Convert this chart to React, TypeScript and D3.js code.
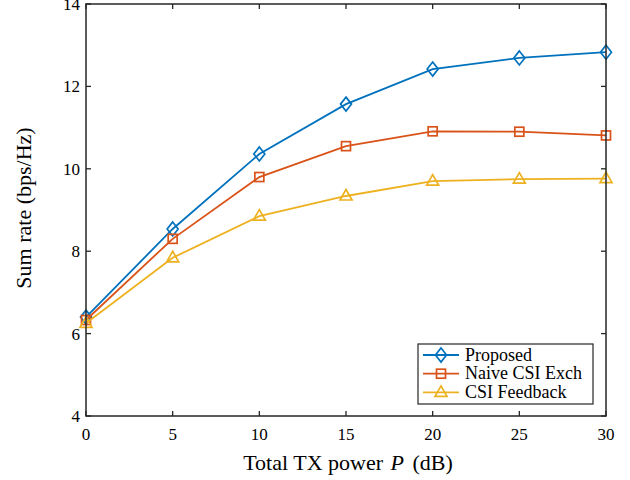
import React from "react";
import * as d3 from "d3";

const powers = [0, 5, 10, 15, 20, 25, 30];
const proposed = [6.4, 8.54, 10.36, 11.57, 12.42, 12.69, 12.83];
const naive = [6.33, 8.3, 9.8, 10.55, 10.91, 10.9, 10.81];
const feedback = [6.25, 7.84, 8.85, 9.34, 9.7, 9.75, 9.76];
const xTicks = [0, 5, 10, 15, 20, 25, 30];
const yTicks = [4, 6, 8, 10, 12, 14];
const seriesNames = ["Proposed", "Naive CSI Exch", "CSI Feedback"];
const colors = ["#0072BD", "#D95319", "#EDB120"];

const W = 630, H = 480;
const L = 86, R = 606, T = 4, B = 416;
const font = "'Liberation Serif', 'Times New Roman', serif";
const axisColor = "#262626";

function Marker({ kind, x, y, color }: { kind: number; x: number; y: number; color: string }) {
  if (kind === 0) {
    const pts = `${x},${y - 7} ${x + 5.5},${y} ${x},${y + 7} ${x - 5.5},${y}`;
    return <polygon points={pts} fill="none" stroke={color} strokeWidth={1.7} />;
  }
  if (kind === 1) {
    return <rect x={x - 4.5} y={y - 4.5} width={9} height={9} fill="none" stroke={color} strokeWidth={1.7} />;
  }
  const pts = `${x},${y - 6.5} ${x + 6},${y + 4} ${x - 6},${y + 4}`;
  return <polygon points={pts} fill="none" stroke={color} strokeWidth={1.7} />;
}

export default function App() {
  const x = d3.scaleLinear().domain([0, 30]).range([L, R]);
  const y = d3.scaleLinear().domain([4, 14]).range([B, T]);
  const data = [proposed, naive, feedback];
  const line = d3.line<number>().x((_, i) => x(powers[i])).y((d) => y(d));
  const lgX = 418, lgY = 344, lgW = 175, lgH = 60;
  return (
    <svg width={W} height={H} style={{ position: "absolute", left: 0, top: 0, background: "#fff" }}>
      <rect x={0} y={0} width={W} height={H} fill="#fff" />
      {xTicks.map((t) => (
        <g key={"xt" + t}>
          <line x1={x(t)} x2={x(t)} y1={B} y2={B - 5} stroke={axisColor} strokeWidth={1.3} />
          <line x1={x(t)} x2={x(t)} y1={T} y2={T + 5} stroke={axisColor} strokeWidth={1.3} />
          <text x={x(t)} y={440} textAnchor="middle" fontFamily={font} fontSize={17} fill="#000">{t}</text>
        </g>
      ))}
      {yTicks.map((t) => (
        <g key={"yt" + t}>
          <line x1={L} x2={L + 5} y1={y(t)} y2={y(t)} stroke={axisColor} strokeWidth={1.3} />
          <line x1={R} x2={R - 5} y1={y(t)} y2={y(t)} stroke={axisColor} strokeWidth={1.3} />
          <text x={80} y={y(t) + 6} textAnchor="end" fontFamily={font} fontSize={17} fill="#000">{t}</text>
        </g>
      ))}
      {data.map((s, k) => (
        <g key={"s" + k}>
          <path d={line(s) || ""} fill="none" stroke={colors[k]} strokeWidth={1.8} />
          {s.map((v, i) => (
            <Marker key={i} kind={k} x={x(powers[i])} y={y(v)} color={colors[k]} />
          ))}
        </g>
      ))}
      <rect x={L} y={T} width={R - L} height={B - T} fill="none" stroke={axisColor} strokeWidth={1.5} />
      <rect x={lgX} y={lgY} width={lgW} height={lgH} fill="#fff" stroke={axisColor} strokeWidth={1.2} />
      {seriesNames.map((n, k) => {
        const cy = lgY + 11 + k * 18.7;
        return (
          <g key={"lg" + k}>
            <line x1={lgX + 5} x2={lgX + 41} y1={cy} y2={cy} stroke={colors[k]} strokeWidth={1.8} />
            <Marker kind={k} x={lgX + 23} y={cy} color={colors[k]} />
            <text x={lgX + 47} y={cy + 5.5} fontFamily={font} fontSize={18} fill="#000">{n}</text>
          </g>
        );
      })}
      <text x={348} y={470} textAnchor="middle" fontFamily={font} fontSize={22} fill="#000">
        Total TX power <tspan dx={2} fontStyle="italic">P</tspan><tspan dx={3}> (dB)</tspan>
      </text>
      <text transform={`translate(31,${208}) rotate(-90)`} textAnchor="middle" fontFamily={font} fontSize={22} fill="#000">
        Sum rate (bps/Hz)
      </text>
    </svg>
  );
}
